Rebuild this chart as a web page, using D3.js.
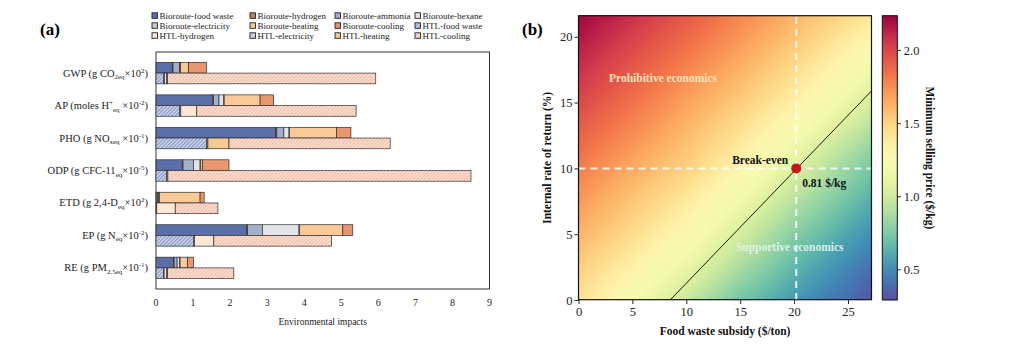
<!DOCTYPE html>
<html><head><meta charset="utf-8">
<script src="https://cdn.jsdelivr.net/npm/d3@7"></script>
<style>
body{margin:0;background:#fff;}
svg{display:block;font-family:"Liberation Serif","Times New Roman",serif;}
</style></head><body>
<svg id="chart" width="1024" height="353"></svg>
<script>
// ---- panel (a) data: environmental impacts ----
const categories = ["GWP","AP","PHO","ODP","ETD","EP","RE"];
const catLabels = [
  [["GWP (g CO",""],["2eq","sub"],["×10",""],["2","sup"],[")",""]],
  [["AP (moles H",""],["+","sup"],["eq","sub"],[" ×10",""],["-2","sup"],[")",""]],
  [["PHO (g NO",""],["xeq","sub"],[" ×10",""],["-1","sup"],[")",""]],
  [["ODP (g CFC-11",""],["eq","sub"],["×10",""],["-5","sup"],[")",""]],
  [["ETD (g 2,4-D",""],["eq","sub"],["×10",""],["2","sup"],[")",""]],
  [["EP (g N",""],["eq","sub"],["×10",""],["-2","sup"],[")",""]],
  [["RE (g PM",""],["2.5eq","sub"],["×10",""],["-1","sup"],[")",""]]
];
const bioFoodWaste   = [0.44, 1.52, 3.23, 0.71, 0.05, 2.45, 0.47];
const bioHydrogen    = [0.02, 0.03, 0.03, 0.02, 0.03, 0.02, 0.02];
const bioAmmonia     = [0.17, 0.15, 0.19, 0.28, 0.00, 0.40, 0.08];
const bioHexane      = [0.02, 0.13, 0.14, 0.18, 0.00, 0.99, 0.07];
const bioElectricity = [0.01, 0.01, 0.01, 0.01, 0.01, 0.01, 0.01];
const bioHeating     = [0.22, 0.97, 1.27, 0.05, 1.10, 1.17, 0.20];
const bioCooling     = [0.48, 0.36, 0.39, 0.72, 0.11, 0.27, 0.16];
const htlFoodWaste   = [0.20, 0.64, 1.37, 0.28, 0.01, 1.02, 0.20];
const htlElectricity = [0.03, 0.03, 0.03, 0.04, 0.01, 0.02, 0.02];
const htlHydrogen    = [0.06, 0.43, 0.00, 0.00, 0.50, 0.52, 0.07];
const htlHeating     = [0.02, 0.00, 0.57, 0.00, 0.00, 0.00, 0.02];
const htlCooling     = [5.62, 4.30, 4.35, 8.18, 1.15, 3.18, 1.79];
const impactTicks = [0,1,2,3,4,5,6,7,8,9];

// ---- panel (b) data: minimum selling price grid ----
const subsidyGrid = [0, 5, 10, 15, 20, 25, 27.2];   // $/ton
const irrGrid = [0, 5, 10, 15, 20, 21.6];           // %
const mspGrid = [ // rows follow irrGrid, columns follow subsidyGrid
  [1.42, 1.22, 0.97, 0.72, 0.54, 0.39, 0.30],
  [1.62, 1.46, 1.27, 1.02, 0.77, 0.58, 0.51],
  [1.80, 1.65, 1.51, 1.31, 1.06, 0.82, 0.72],
  [1.99, 1.84, 1.68, 1.53, 1.35, 1.13, 1.02],
  [2.17, 2.02, 1.87, 1.72, 1.57, 1.39, 1.31],
  [2.22, 2.08, 1.93, 1.77, 1.62, 1.47, 1.39]
];
const breakLineS = [8.5, 27.2];
const breakLineR = [0, 15.9];
const breakEven = {s: 20.2, r: 10, msp: 0.81};
const subsidyTicks = [0,5,10,15,20,25];
const irrTicks = [0,5,10,15,20];
const mspTicks = [0.5,1.0,1.5,2.0];

const svg = d3.select("#chart");
const defs = svg.append("defs");

function hatch(id, bg, fg){
  const p = defs.append("pattern").attr("id", id)
    .attr("patternUnits","userSpaceOnUse").attr("width",2.6).attr("height",2.6)
    .attr("patternTransform","rotate(45)");
  p.append("rect").attr("width",2.6).attr("height",2.6).attr("fill",bg);
  p.append("line").attr("x1",0.6).attr("x2",0.6).attr("y1",0).attr("y2",2.6)
    .attr("stroke",fg).attr("stroke-width",0.9);
}
hatch("hFood","#d2d9ec","#6f82b8");
hatch("hElec","#e2e4ea","#9aa2b4");
hatch("hCool","#fbe1d3","#eab39c");

const bioKeys = ["Bioroute-food waste","Bioroute-hydrogen","Bioroute-ammonia","Bioroute-hexane",
                 "Bioroute-electricity","Bioroute-heating","Bioroute-cooling"];
const bioValues = [bioFoodWaste,bioHydrogen,bioAmmonia,bioHexane,bioElectricity,bioHeating,bioCooling];
const htlKeys = ["HTL-food waste","HTL-electricity","HTL-hydrogen","HTL-heating","HTL-cooling"];
const htlValues = [htlFoodWaste,htlElectricity,htlHydrogen,htlHeating,htlCooling];
const legendKeys = bioKeys.concat(["HTL-food waste","HTL-hydrogen","HTL-electricity","HTL-heating","HTL-cooling"]);

const fills = {
  "Bioroute-food waste":"#5a6ea8",
  "Bioroute-hydrogen":"#b9835f",
  "Bioroute-ammonia":"#a3b0c9",
  "Bioroute-hexane":"#e3e4e9",
  "Bioroute-electricity":"#c3c8d2",
  "Bioroute-heating":"#fac995",
  "Bioroute-cooling":"#e9966c",
  "HTL-food waste":"url(#hFood)",
  "HTL-hydrogen":"#fde7d5",
  "HTL-electricity":"url(#hElec)",
  "HTL-heating":"#f9c994",
  "HTL-cooling":"url(#hCool)"
};

// ================= panel (a) =================
const x = d3.scaleLinear().domain([0, 9]).range([156, 489.5]);
const y = d3.scaleLinear().domain([-0.65, 6.65]).range([52, 289]);
const barH = 0.33;

function rowsFor(keys, vals){
  return categories.map((c,i) => {
    const o = {cat: c, idx: i};
    keys.forEach((k,j) => o[k] = vals[j][i]);
    return o;
  });
}
const bioStack = d3.stack().keys(bioKeys)(rowsFor(bioKeys, bioValues));
const htlStack = d3.stack().keys(htlKeys)(rowsFor(htlKeys, htlValues));

const gA = svg.append("g");
gA.append("rect").attr("x",x(0)).attr("y",y.range()[0])
  .attr("width",x(9)-x(0)).attr("height",y.range()[1]-y.range()[0])
  .attr("fill","none").attr("stroke","#333").attr("stroke-width",1);

function drawStack(stack, offset){
  gA.append("g").selectAll("g").data(stack).join("g")
    .attr("fill", d => fills[d.key])
    .selectAll("rect").data(d => d.filter(s => s[1] - s[0] > 0)).join("rect")
    .attr("x", d => x(d[0]))
    .attr("width", d => x(d[1]) - x(d[0]))
    .attr("y", d => y(d.data.idx + offset))
    .attr("height", y(barH) - y(0))
    .attr("stroke","#2e2e2e").attr("stroke-width",0.7);
}
drawStack(bioStack, -barH);
drawStack(htlStack, 0);

// category labels
const lab = gA.append("g").selectAll("text").data(catLabels).join("text")
  .attr("x",148).attr("y",(d,i) => y(i) + 3.5)
  .attr("text-anchor","end").attr("font-size",10.5).attr("fill","#222");
lab.each(function(parts){
  const t = d3.select(this);
  let shift = 0;
  parts.forEach(([txt, kind]) => {
    const target = kind === "sub" ? 2.5 : kind === "sup" ? -4 : 0;
    t.append("tspan").text(txt)
      .attr("dy", target - shift)
      .attr("font-size", kind ? 7 : 10.5);
    shift = target;
  });
});

// x ticks
gA.append("g").selectAll("text").data(impactTicks).join("text")
  .attr("x", d => x(d)).attr("y",306).attr("text-anchor","middle")
  .attr("font-size",10).attr("fill","#222").text(d => d);
gA.append("text").attr("x",(x(0)+x(9))/2).attr("y",325).attr("text-anchor","middle")
  .attr("font-size",9.5).attr("fill","#222").text("Environmental impacts");

// legend
const legCols = [152, 250, 335, 415];
const legRows = [16, 26, 36];
const leg = gA.append("g").selectAll("g").data(legendKeys).join("g")
  .attr("transform",(d,i) => `translate(${legCols[i % 4]},${legRows[Math.floor(i / 4)]})`);
leg.append("rect").attr("x",0).attr("y",-3.2).attr("width",5.5).attr("height",5.5)
  .attr("fill", d => fills[d]).attr("stroke","#222").attr("stroke-width",0.9);
leg.append("text").attr("x",7.5).attr("y",3).attr("font-size",9).attr("fill","#222").text(d => d);

svg.append("text").attr("x",40).attr("y",35).attr("font-size",17).attr("font-weight","bold").text("(a)");

// ================= panel (b) =================
const xs = d3.scaleLinear().domain([0, 27.2]).range([578.5, 871.7]);
const yr = d3.scaleLinear().domain([0, 21.6]).range([300, 15.7]);
const color = d3.scaleSequential(t => d3.interpolateSpectral(1 - t)).domain([0.29, 2.235]);

// heat map drawn into a canvas, placed as an svg image
const pw = Math.round(xs.range()[1] - xs.range()[0]);
const ph = Math.round(yr.range()[0] - yr.range()[1]);
const cv = document.createElement("canvas");
cv.width = pw; cv.height = ph;
const ctx = cv.getContext("2d");
const img = ctx.createImageData(pw, ph);
function cellAt(arr, v){
  let i = d3.bisectRight(arr, v) - 1;
  i = Math.max(0, Math.min(arr.length - 2, i));
  return [i, (v - arr[i]) / (arr[i+1] - arr[i])];
}
for (let py = 0; py < ph; py++){
  const r = yr.invert(yr.range()[1] + py + 0.5);
  const [ri, rt] = cellAt(irrGrid, r);
  for (let px = 0; px < pw; px++){
    const s = xs.invert(xs.range()[0] + px + 0.5);
    const [si, st] = cellAt(subsidyGrid, s);
    const v0 = mspGrid[ri][si] * (1 - st) + mspGrid[ri][si+1] * st;
    const v1 = mspGrid[ri+1][si] * (1 - st) + mspGrid[ri+1][si+1] * st;
    const c = d3.rgb(color(v0 * (1 - rt) + v1 * rt));
    const k = (py * pw + px) * 4;
    img.data[k] = c.r; img.data[k+1] = c.g; img.data[k+2] = c.b; img.data[k+3] = 255;
  }
}
ctx.putImageData(img, 0, 0);
const gB = svg.append("g");
gB.append("image").attr("x",xs.range()[0]).attr("y",yr.range()[1])
  .attr("width",pw).attr("height",ph).attr("preserveAspectRatio","none")
  .attr("href", cv.toDataURL());

// break-even line
gB.append("line")
  .attr("x1",xs(breakLineS[0])).attr("y1",yr(breakLineR[0]))
  .attr("x2",xs(breakLineS[1])).attr("y2",yr(breakLineR[1]))
  .attr("stroke","#1a1a1a").attr("stroke-width",1);

// dashed guides
gB.append("line").attr("x1",xs(0)).attr("x2",xs(27.2)).attr("y1",yr(breakEven.r)).attr("y2",yr(breakEven.r))
  .attr("stroke","#fff").attr("stroke-opacity",0.85).attr("stroke-width",2).attr("stroke-dasharray","7,5");
gB.append("line").attr("x1",xs(breakEven.s)).attr("x2",xs(breakEven.s)).attr("y1",yr(0)).attr("y2",yr(21.6))
  .attr("stroke","#fff").attr("stroke-opacity",0.85).attr("stroke-width",2).attr("stroke-dasharray","7,5");

gB.append("circle").attr("cx",xs(breakEven.s)).attr("cy",yr(breakEven.r)).attr("r",5)
  .attr("fill","#c4161c");

// annotations
gB.append("text").attr("x",xs(2.83)).attr("y",yr(16.6)).attr("font-size",11.5).attr("font-weight","bold")
  .attr("fill","#fde3b8").text("Prohibitive economics");
gB.append("text").attr("x",xs(14.6)).attr("y",yr(3.7)).attr("font-size",11.5).attr("font-weight","bold")
  .attr("fill","#e6f5ea").attr("fill-opacity",0.9).text("Supportive economics");
gB.append("text").attr("x",xs(19.45)).attr("y",yr(10.35)).attr("text-anchor","end").attr("font-size",11.5)
  .attr("font-weight","bold").attr("fill","#111").text("Break-even");
gB.append("text").attr("x",xs(20.75)).attr("y",yr(8.6)).attr("font-size",11.5)
  .attr("font-weight","bold").attr("fill","#111").text(d3.format(".2f")(breakEven.msp) + " $/kg");

// frame
gB.append("rect").attr("x",xs.range()[0]).attr("y",yr.range()[1])
  .attr("width",pw).attr("height",ph).attr("fill","none").attr("stroke","#111").attr("stroke-width",1.2);

// axes
const xAxis = gB.append("g").attr("transform",`translate(0,${yr(0)})`)
  .call(d3.axisBottom(xs).tickValues(subsidyTicks).tickSize(4).tickPadding(3));
const yAxis = gB.append("g").attr("transform",`translate(${xs(0)},0)`)
  .call(d3.axisLeft(yr).tickValues(irrTicks).tickSize(4).tickPadding(2));
[xAxis, yAxis].forEach(a => {
  a.select(".domain").remove();
  a.selectAll("text").attr("font-family","Liberation Serif").attr("font-size",12.5).attr("fill","#222");
  a.selectAll("line").attr("stroke","#222");
});
gB.append("text").attr("x",(xs.range()[0]+xs.range()[1])/2).attr("y",335).attr("text-anchor","middle")
  .attr("font-size",11.5).attr("font-weight","bold").attr("fill","#111").text("Food waste subsidy ($/ton)");
gB.append("text").attr("transform",`translate(551,${(yr.range()[0]+yr.range()[1])/2}) rotate(-90)`)
  .attr("text-anchor","middle").attr("font-size",11.5).attr("font-weight","bold").attr("fill","#111")
  .text("Internal rate of return (%)");

// colorbar
const cb = d3.scaleLinear().domain(color.domain()).range([300, 15.7]);
const grad = defs.append("linearGradient").attr("id","cbGrad")
  .attr("x1",0).attr("x2",0).attr("y1",1).attr("y2",0);
d3.range(0, 1.0001, 0.05).forEach(t => {
  grad.append("stop").attr("offset",t).attr("stop-color",color(cb.domain()[0] + t * (cb.domain()[1] - cb.domain()[0])));
});
gB.append("rect").attr("x",882.3).attr("y",cb.range()[1]).attr("width",15).attr("height",cb.range()[0]-cb.range()[1])
  .attr("fill","url(#cbGrad)").attr("stroke","#111").attr("stroke-width",1);
const cAxis = gB.append("g").attr("transform","translate(897.3,0)")
  .call(d3.axisRight(cb).tickValues(mspTicks).tickFormat(d3.format(".1f")).tickSize(3.5).tickPadding(3));
cAxis.select(".domain").remove();
cAxis.selectAll("text").attr("font-family","Liberation Serif").attr("font-size",12.5).attr("fill","#222");
cAxis.selectAll("line").attr("stroke","#222");
gB.append("text").attr("transform",`translate(926,${(cb.range()[0]+cb.range()[1])/2}) rotate(90)`)
  .attr("text-anchor","middle").attr("font-size",11.5).attr("font-weight","bold").attr("fill","#111")
  .text("Minimum selling price ($/kg)");

svg.append("text").attr("x",522).attr("y",35).attr("font-size",17).attr("font-weight","bold").text("(b)");
</script></body></html>
